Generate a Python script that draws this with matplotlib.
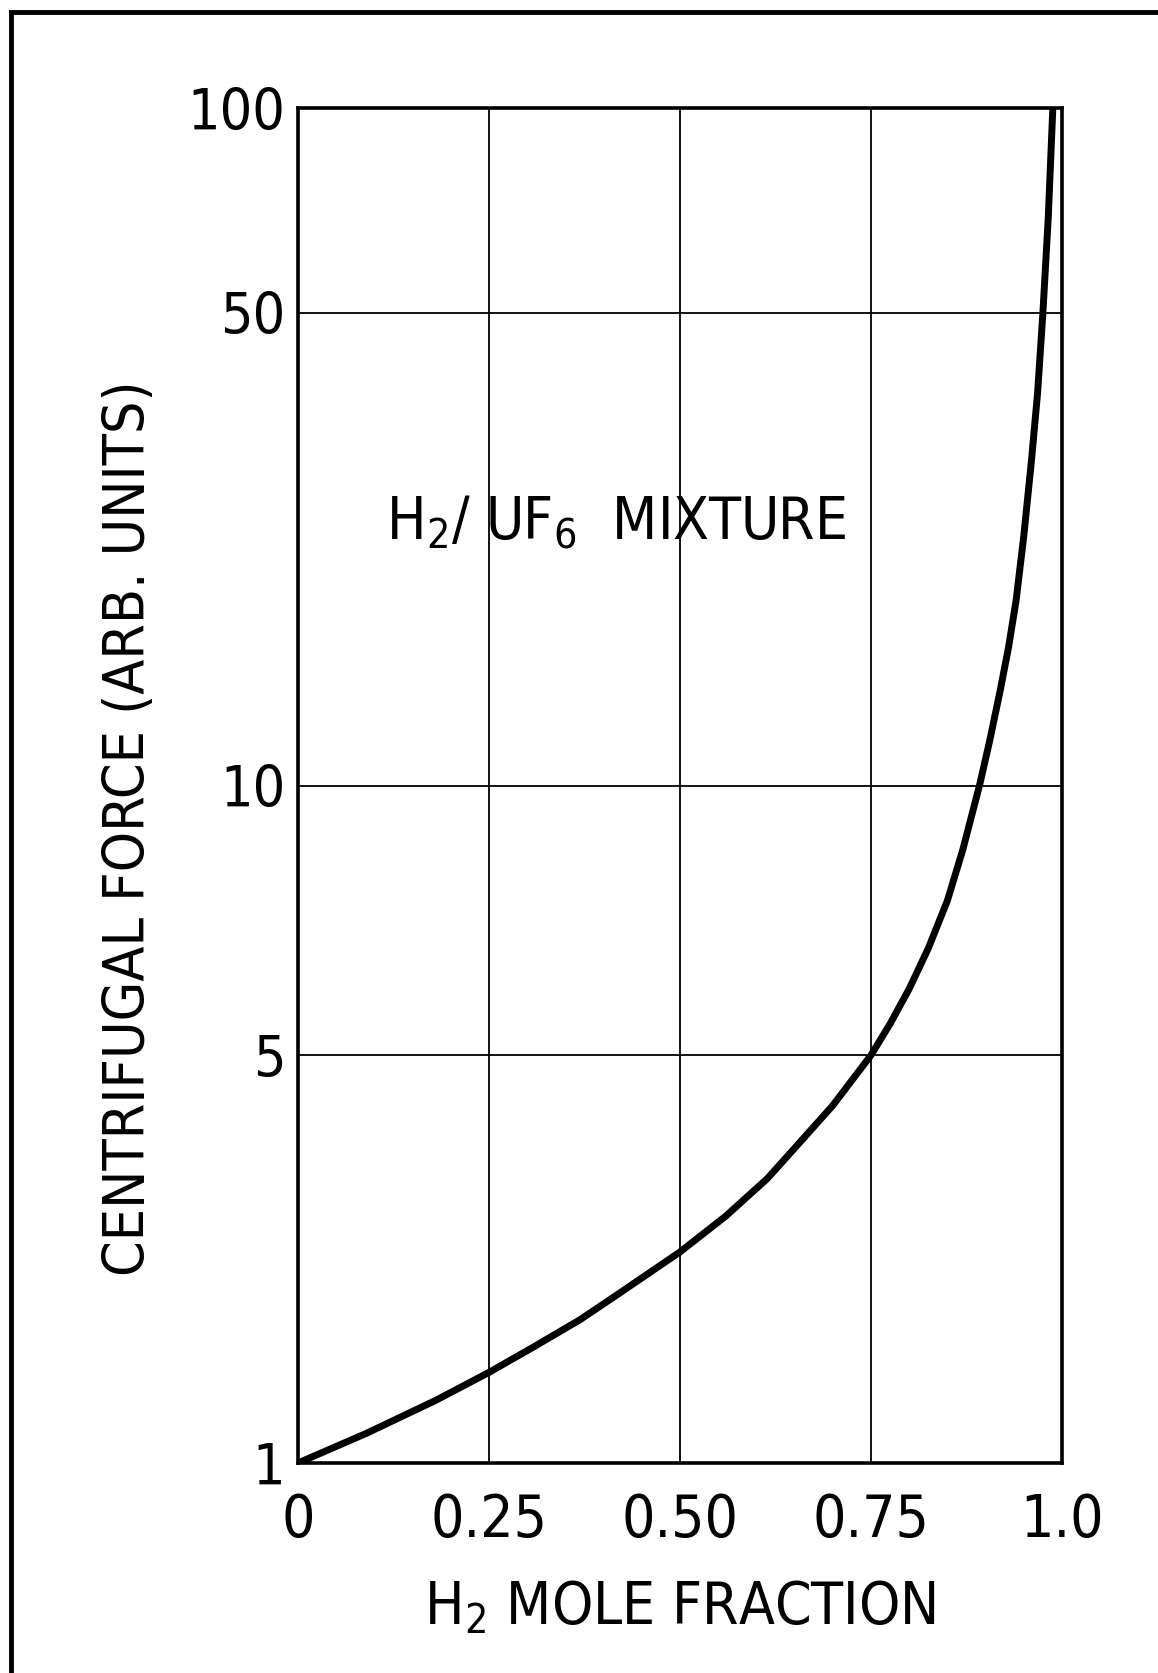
import numpy as np
import matplotlib
matplotlib.use('Agg')
import matplotlib.pyplot as plt
from matplotlib.lines import Line2D

plt.rcParams['font.family'] = ['DejaVu Sans']
plt.rcParams['font.stretch'] = 'condensed'
plt.rcParams['mathtext.fontset'] = 'custom'
plt.rcParams['mathtext.rm'] = 'DejaVu Sans:stretch=condensed'

# values
mole_fraction = [0.0, 0.09, 0.18, 0.25, 0.308, 0.369, 0.412, 0.5, 0.56, 0.614,
                 0.648, 0.70, 0.75, 0.775, 0.80, 0.825, 0.85, 0.87, 0.892,
                 0.905, 0.919, 0.93, 0.94, 0.95, 0.96, 0.968, 0.975, 0.982, 0.988]
force = [1.0, 1.125, 1.28, 1.43, 1.58, 1.76, 1.92, 2.30, 2.65, 3.07,
         3.44, 4.10, 5.0, 5.42, 5.93, 6.58, 7.44, 8.47, 10.0,
         11.6, 13.8, 16.0, 18.8, 23.4, 30.2, 38.0, 50.0, 69.0, 100.0]

x_ticks = [0, 0.25, 0.5, 0.75, 1.0]
x_labels = ['0', '0.25', '0.50', '0.75', '1.0']
y_ticks = [1, 5, 10, 50, 100]
y_labels = ['1', '5', '10', '50', '100']
# where each y tick sits on the printed axis, in decades from the bottom
y_tick_pos = [0.0, 0.602, 1.0, 1.698, 2.0]


def fwd(v):
    v = np.clip(np.asarray(v, dtype=float), 1e-3, None)
    return np.interp(np.log10(v), np.log10(y_ticks), y_tick_pos)


def inv(p):
    return 10 ** np.interp(np.asarray(p, dtype=float), y_tick_pos, np.log10(y_ticks))


fig = plt.figure(figsize=(11.58, 16.73), dpi=100)
ax = fig.add_axes([0.2573, 0.1255, 0.6598, 0.8099])
ax.set_yscale('function', functions=(fwd, inv))
ax.set_xlim(0, 1.0)
ax.set_ylim(1, 100)

ax.plot(mole_fraction, force, color='black', lw=5.0, solid_joinstyle='round', zorder=3)

ax.set_xticks(x_ticks)
ax.set_xticklabels(x_labels)
ax.set_yticks(y_ticks)
ax.set_yticklabels(y_labels)
ax.minorticks_off()
ax.grid(True, color='black', lw=1.3)
ax.tick_params(axis='x', length=0, labelsize=42, pad=21)
ax.tick_params(axis='y', length=0, labelsize=41, pad=9)
for s in ax.spines.values():
    s.set_linewidth(2.6)

fig.text(680 / 1158, 1 - 1624 / 1673, r'H$_\mathrm{2}$ MOLE FRACTION', fontsize=42,
         ha='center', va='baseline')
fig.text(130 / 1158, 1 - 828 / 1673, 'CENTRIFUGAL FORCE (ARB. UNITS)', fontsize=41,
         rotation=90, ha='center', va='center')

ax.text(0.115, 0.682, r'H$_\mathrm{2}$/ UF$_\mathrm{6}$  MIXTURE', transform=ax.transAxes,
        fontsize=42, va='baseline', ha='left')

# border of the page
fig.add_artist(Line2D([0.0095, 0.0095], [0.0, 0.9928], color='black', lw=3.5))
fig.add_artist(Line2D([0.0095, 1.0], [0.9928, 0.9928], color='black', lw=3.5))

fig.savefig('out.png', dpi=100)
